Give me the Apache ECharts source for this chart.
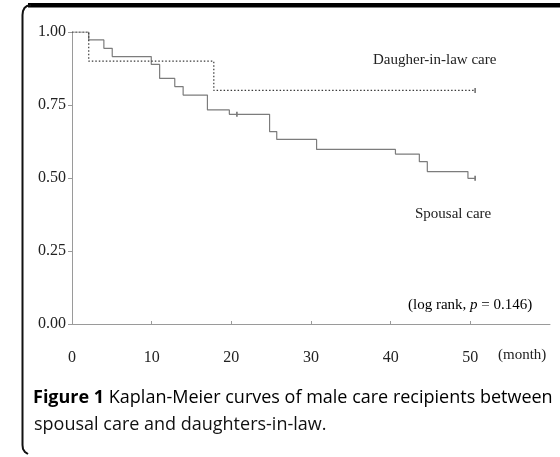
<!DOCTYPE html>
<html>
<head>
<meta charset="utf-8">
<script src="https://cdn.jsdelivr.net/npm/echarts@6/dist/echarts.min.js"></script>
<style>
  html, body { margin: 0; padding: 0; background: #fff; }
  #chart { width: 560px; height: 457px; }
</style>
</head>
<body>
<div id="chart"></div>
<script>
// ---- data ----
const xTicks = [0, 10, 20, 30, 40, 50];
const yTicks = [0, 0.25, 0.5, 0.75, 1.0];

const spousalTime = [0, 2.1, 4.0, 5.05, 9.95, 11.0, 12.9, 13.95, 17.0, 19.75, 24.8, 25.7, 30.7, 40.6, 43.6, 44.6, 49.7, 50.6];
const spousalSurv = [1.0, 0.973, 0.944, 0.916, 0.889, 0.841, 0.813, 0.784, 0.733, 0.718, 0.659, 0.632, 0.598, 0.582, 0.556, 0.522, 0.499, 0.499];

const daughterTime = [0, 2.1, 17.8, 50.6];
const daughterSurv = [1.0, 0.9, 0.8, 0.8];

const spousalCensorTime = [20.7, 50.6];
const spousalCensorSurv = [0.718, 0.499];
const daughterCensorTime = [50.6];
const daughterCensorSurv = [0.8];

const labelDaughter = 'Daugher-in-law care';
const labelSpousal = 'Spousal care';
const labelLogRank = ['(log rank, ', 'p', ' = 0.146)'];
const labelUnit = '(month)';
const captionBold = 'Figure 1';
const captionLine1 = ' Kaplan-Meier curves of male care recipients between';
const captionLine2 = 'spousal care and daughters-in-law.';

// ---- build ----
const pairs = (xs, ys) => xs.map((x, i) => [x, ys[i]]);
const serif = 'Liberation Serif';

const chart = echarts.init(document.getElementById('chart'), null, { renderer: 'canvas' });
chart.setOption({
  animation: false,
  backgroundColor: '#fff',
  grid: { left: 72, top: 32, width: 478, height: 292, containLabel: false },
  xAxis: {
    type: 'value', min: 0, max: 60, interval: 10,
    axisLine: { show: true, lineStyle: { color: '#9a9a9a', width: 1 } },
    axisTick: { show: true, inside: true, length: 3, lineStyle: { color: '#9a9a9a' } },
    axisLabel: { show: true, margin: 26, showMaxLabel: false, color: '#222', fontFamily: serif, fontSize: 16,
      formatter: v => xTicks.indexOf(v) >= 0 ? String(v) : '' },
    splitLine: { show: false }
  },
  yAxis: {
    type: 'value', min: 0, max: 1, interval: 0.25,
    axisLine: { show: true, lineStyle: { color: '#9a9a9a', width: 1 } },
    axisTick: { show: true, inside: false, length: 4, lineStyle: { color: '#9a9a9a' } },
    axisLabel: { show: true, margin: 6, color: '#222', fontFamily: serif, fontSize: 16,
      formatter: v => yTicks.indexOf(v) >= 0 ? v.toFixed(2) : '' },
    splitLine: { show: false }
  },
  series: [
    {
      name: 'Spousal care', type: 'line', step: 'end', symbol: 'none',
      data: pairs(spousalTime, spousalSurv),
      lineStyle: { color: '#7c7c7c', width: 1.2, type: 'solid' }
    },
    {
      name: 'Daughter-in-law care', type: 'line', step: 'end', symbol: 'none',
      data: pairs(daughterTime, daughterSurv),
      lineStyle: { color: '#3a3a3a', width: 1.2, type: [1.5, 2] }
    },
    {
      name: 'censored', type: 'scatter', symbol: 'rect', symbolSize: [1.5, 5],
      itemStyle: { color: '#444' },
      data: pairs(spousalCensorTime, spousalCensorSurv).concat(pairs(daughterCensorTime, daughterCensorSurv))
    }
  ],
  graphic: [
    // frame
    { type: 'rect', shape: { x: 28, y: 3, width: 540, height: 4.5 }, style: { fill: '#000' }, silent: true },
    { type: 'polyline', shape: { points: [[31, 5.2], [27, 6], [24.5, 8], [23, 11], [22.5, 15], [22.5, 445], [23, 449], [25, 452], [28, 454]] },
      style: { fill: 'none', stroke: '#111', lineWidth: 2 }, silent: true },
    // annotations
    { type: 'text', left: 373, top: 53, style: { text: labelDaughter, font: '15px "Liberation Serif"', fill: '#222' } },
    { type: 'text', left: 415, top: 207, style: { text: labelSpousal, font: '15px "Liberation Serif"', fill: '#222' } },
    { type: 'text', left: 408, top: 298, style: {
        text: '{n|' + labelLogRank[0] + '}{i|' + labelLogRank[1] + '}{n|' + labelLogRank[2] + '}',
        rich: {
          n: { fontFamily: serif, fontSize: 15, color: '#222' },
          i: { fontFamily: serif, fontSize: 15, fontStyle: 'italic', color: '#222' }
        } } },
    { type: 'text', left: 498, top: 348, style: { text: labelUnit, font: '15px "Liberation Serif"', fill: '#222' } },
    // caption
    { type: 'text', left: 33, top: 389, style: {
        text: '{b|' + captionBold + '}{n|' + captionLine1 + '}',
        rich: {
          b: { fontFamily: 'Open Sans', fontSize: 18, fontWeight: 'bold', color: '#111' },
          n: { fontFamily: 'Open Sans', fontSize: 18, color: '#111' }
        } } },
    { type: 'text', left: 34, top: 416, style: { text: captionLine2, font: '18px "Open Sans"', fill: '#111' } }
  ]
});
</script>
</body>
</html>
